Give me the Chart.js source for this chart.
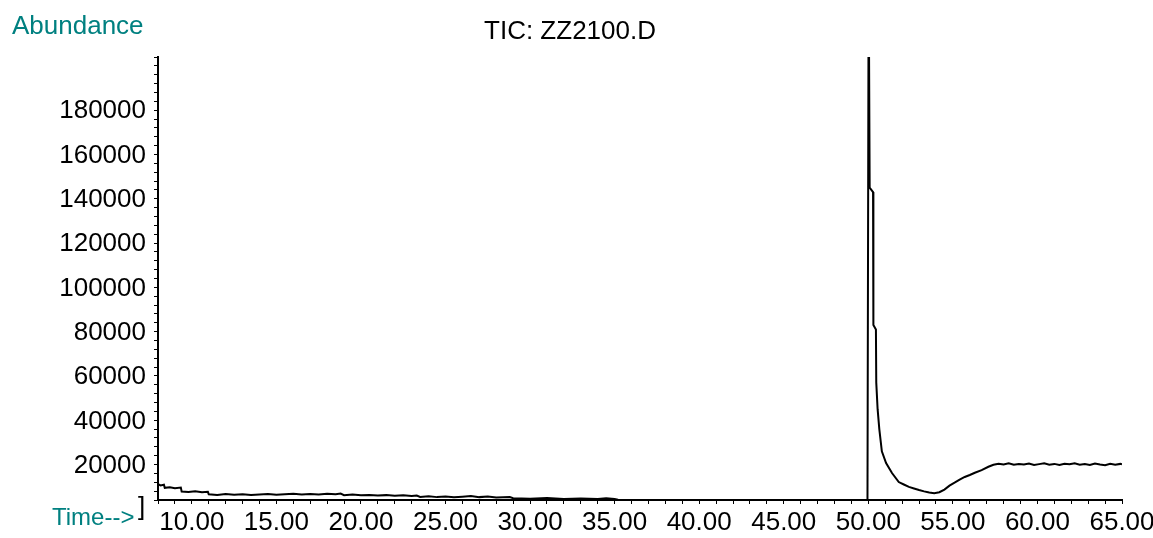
<!DOCTYPE html>
<html>
<head>
<meta charset="utf-8">
<title>TIC: ZZ2100.D</title>
<script src="https://cdn.jsdelivr.net/npm/chart.js@4/dist/chart.umd.min.js"></script>
<style>
  html, body { margin: 0; padding: 0; background: #fff; }
  canvas { display: block; }
</style>
</head>
<body>
<canvas id="ticChart" width="1153" height="538"></canvas>
<script>
// retention time (min) and total ion abundance
const retentionTimes = [
  8.00, 8.15, 8.35, 8.40, 8.70, 9.00, 9.35, 9.40, 9.80, 10.20, 10.60, 10.95,
  11.00, 11.50, 12.00, 12.50, 13.00, 13.50, 14.00, 14.50, 15.00, 15.50, 16.00,
  16.50, 17.00, 17.50, 18.00, 18.50, 18.80, 19.00, 19.50, 20.00, 20.50, 21.00,
  21.50, 22.00, 22.50, 23.00, 23.30, 23.50, 24.00, 24.50, 25.00, 25.50, 26.00,
  26.50, 27.00, 27.50, 28.00, 28.80, 29.00, 30.00, 31.00, 32.00, 33.00, 34.00,
  34.50, 35.00, 35.20, 36.00, 40.00, 45.00, 49.95,
  50.02, 50.08, 50.28, 50.30, 50.45, 50.47, 50.55, 50.65, 50.80, 51.05, 51.40,
  51.80, 52.10, 52.40, 52.70, 53.00, 53.30, 53.60, 53.90, 54.20, 54.50, 54.80,
  55.10, 55.40, 55.70, 56.00, 56.30, 56.70, 57.10, 57.40, 57.70, 58.00, 58.30,
  58.60, 58.90, 59.20, 59.50, 59.80, 60.10, 60.40, 60.70, 61.00, 61.30, 61.60,
  61.90, 62.20, 62.50, 62.80, 63.10, 63.40, 63.70, 64.00, 64.30, 64.60, 64.90,
  65.00
];
const abundance = [
  7200, 6600, 6900, 5500, 5800, 5300, 5600, 3800, 3600, 4000, 3500, 3700,
  2600, 2300, 2700, 2400, 2600, 2300, 2500, 2700, 2400, 2600, 2800,
  2500, 2700, 2500, 2800, 2600, 2900, 2200, 2500, 2100, 2300, 2000,
  2200, 1900, 2100, 1800, 2000, 1400, 1700, 1300, 1600, 1200, 1500,
  1800, 1300, 1600, 1100, 1300, 800, 600, 900, 500, 700, 500,
  800, 400, 100, 0, 0, 0, 0,
  240000, 141000, 139000, 79000, 77000, 53000, 41000, 32000, 22000, 16700, 12200,
  8100, 7000, 5900, 5200, 4500, 3900, 3400, 3100, 3500, 4700, 6500,
  7800, 9200, 10400, 11300, 12300, 13500, 15000, 15900, 16400, 16000, 16600,
  15900, 16300, 16000, 16500, 15800, 16200, 16600, 15900, 16300, 15800, 16400,
  16100, 16600, 15900, 16200, 15800, 16500, 16000, 15700, 16400, 15900, 16300,
  16100
];

const chartTitle = "TIC: ZZ2100.D";
const yTitle = "Abundance";
const xTitle = "Time-->";

const TEAL = "#008080";
const FONT = "Liberation Sans, Arial, sans-serif";

// free-standing labels drawn like the instrument software does
const labelPlugin = {
  id: "labels",
  afterDraw(chart) {
    const c = chart.ctx;
    c.save();
    c.textBaseline = "middle";
    c.fillStyle = TEAL;
    c.textAlign = "left";
    c.font = "26px " + FONT;
    c.fillText(yTitle, 12, 27);
    c.font = "24px " + FONT;
    c.fillText(xTitle, 52, 518);
    c.fillStyle = "#000";
    c.font = "26px " + FONT;
    c.fillText("]", 138, 508);
    c.textAlign = "center";
    c.fillText(chartTitle, 570, 32);
    c.restore();
  }
};

new Chart(document.getElementById("ticChart").getContext("2d"), {
  type: "line",
  data: {
    datasets: [{
      data: retentionTimes.map((t, i) => ({ x: t, y: abundance[i] })),
      borderColor: "#000",
      borderWidth: 2,
      pointRadius: 0,
      tension: 0,
      fill: false
    }]
  },
  options: {
    responsive: false,
    animation: false,
    layout: { padding: { top: 57, right: 31, left: 0, bottom: 0 } },
    plugins: {
      legend: { display: false },
      tooltip: { enabled: false }
    },
    scales: {
      x: {
        type: "linear",
        min: 8,
        max: 65,
        grid: { display: true, drawOnChartArea: false, drawTicks: true, tickLength: 4, color: "#000", tickColor: "#000" },
        border: { display: true, color: "#000", width: 2 },
        ticks: {
          stepSize: 1,
          autoSkip: false,
          maxRotation: 0,
          padding: 3,
          color: "#000",
          font: { family: FONT, size: 26 },
          callback: (v) => (v % 5 === 0 ? v.toFixed(2) : "")
        },
        afterFit: (s) => { s.height = 38; s.paddingLeft = 0; s.paddingRight = 0; }
      },
      y: {
        min: 0,
        max: 200000,
        grid: { display: true, drawOnChartArea: false, drawTicks: true, tickLength: 4, color: "#000", tickColor: "#000" },
        border: { display: true, color: "#000", width: 2 },
        ticks: {
          stepSize: 4000,
          autoSkip: false,
          padding: 8,
          labelOffset: 10,
          color: "#000",
          font: { family: FONT, size: 26 },
          callback: (v) => (v % 20000 === 0 && v > 0 && v < 200000 ? String(v) : "")
        },
        afterFit: (s) => { s.width = 158; s.paddingTop = 0; s.paddingBottom = 0; }
      }
    }
  },
  plugins: [labelPlugin]
});
</script>
</body>
</html>
